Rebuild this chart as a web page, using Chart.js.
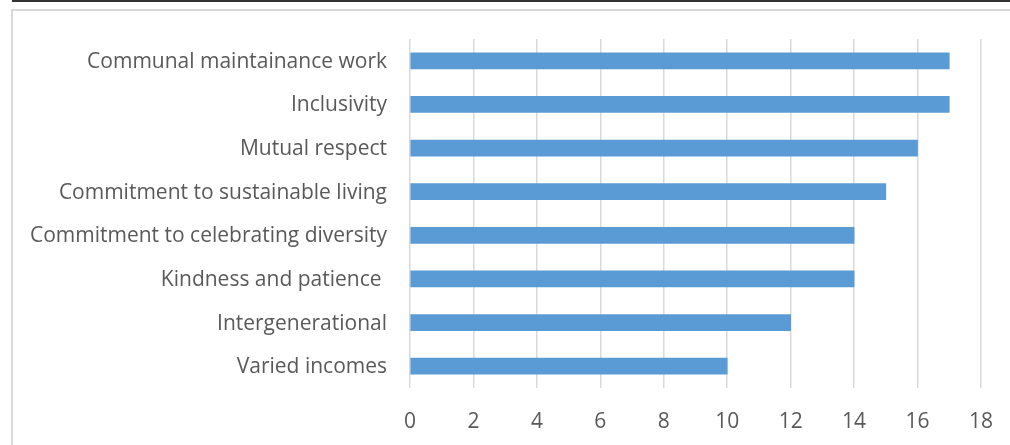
<!DOCTYPE html>
<html>
<head>
<meta charset="utf-8">
<script src="https://cdn.jsdelivr.net/npm/chart.js@4/dist/chart.umd.min.js"></script>
<style>
  body { margin: 0; background: #fff; }
  #topline { position: absolute; left: 12px; top: 0; width: 998px; height: 2px; background: #333; }
  #frame { position: absolute; left: 11px; top: 9px; width: 1010px; height: 450px; border: 2px solid #d9d9d9; }
  #wrap { position: absolute; left: 0; top: 0; width: 1010px; height: 445px; }
</style>
</head>
<body>
<div id="topline"></div>
<div id="frame"></div>
<div id="wrap"><canvas id="barChart" width="1010" height="445"></canvas></div>
<script>
// categories, top to bottom
const labels = [
    'Communal maintainance work',
    'Inclusivity',
    'Mutual respect',
    'Commitment to sustainable living',
    'Commitment to celebrating diversity',
    'Kindness and patience ',
    'Intergenerational',
    'Varied incomes'
];
const values = [17, 17, 16, 15, 14, 14, 12, 10];
const xMin = 0, xMax = 18, xStep = 2;

const ctx = document.getElementById('barChart').getContext('2d');
const textFont = { family: 'Open Sans', size: 21 };

const barChart = new Chart(ctx, {
    type: 'bar',
    data: {
        labels: labels,
        datasets: [{
            data: values,
            backgroundColor: '#5b9bd5',
            borderWidth: 0,
            barThickness: 16,
        }],
    },
    options: {
        indexAxis: 'y',
        responsive: false,
        animation: false,
        layout: { padding: { top: 39, right: 29, bottom: 0, left: 0 } },
        plugins: { legend: { display: false }, tooltip: { enabled: false } },
        scales: {
            x: {
                min: xMin,
                max: xMax,
                ticks: { stepSize: xStep, color: '#595959', font: textFont, padding: 21 },
                grid: { color: '#d9d9d9', lineWidth: 1.5, drawTicks: false },
                border: { display: false },
                afterFit: (scale) => {
                    scale.height = 57;
                    scale.paddingRight = 0;
                    scale.paddingLeft = 0;
                },
            },
            y: {
                ticks: { color: '#595959', font: textFont, padding: 23, labelOffset: 1 },
                grid: { display: false, drawTicks: false },
                border: { display: false },
                afterFit: (scale) => { scale.width = 410; },
            }
        }
    }
});
</script>
</body>
</html>
